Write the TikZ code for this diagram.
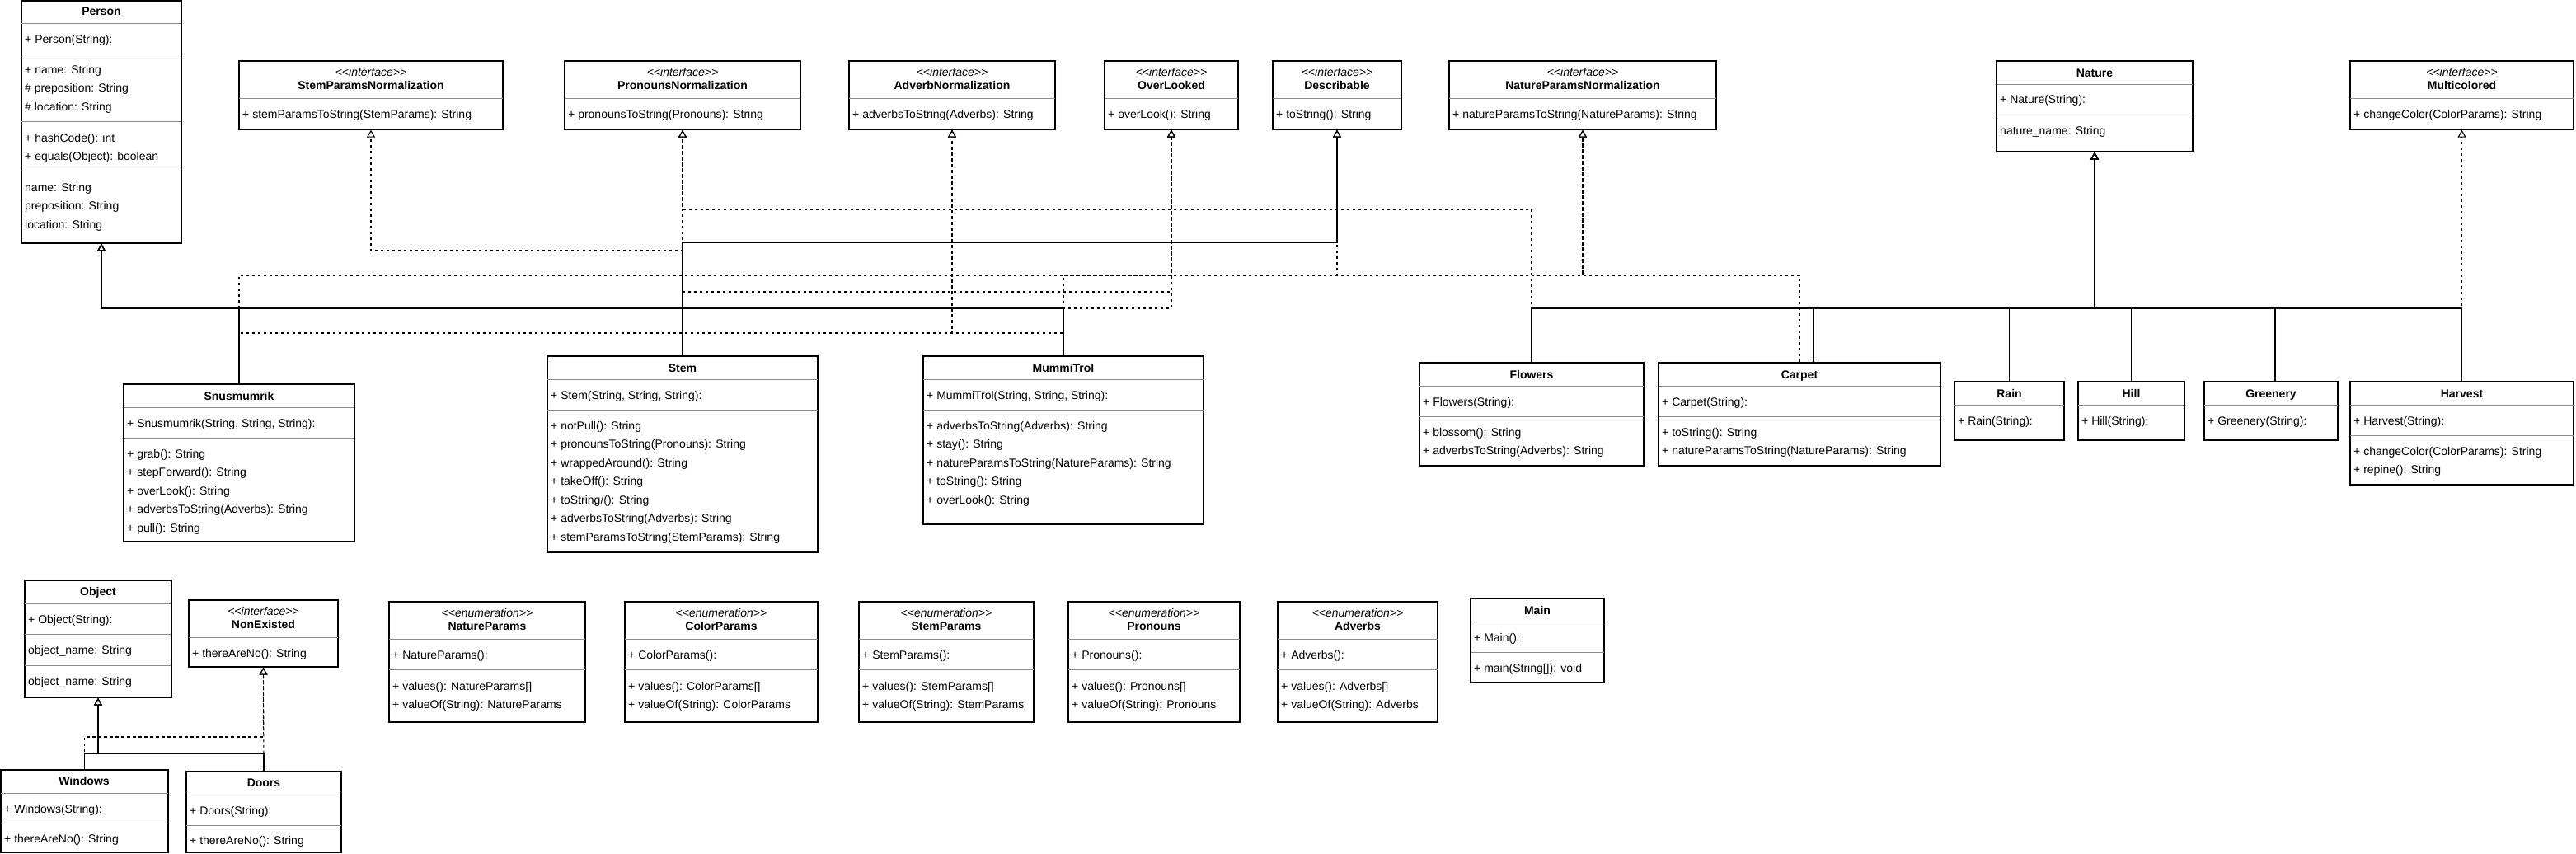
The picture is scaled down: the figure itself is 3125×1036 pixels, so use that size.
\documentclass[tikz,border=0pt]{standalone}
\usepackage{fontspec}
\setmainfont{Liberation Sans}
\usetikzlibrary{arrows.meta,fit}
\tikzset{
  ubox/.style={draw=black, line width=1.2pt, inner sep=0pt, fill=white},
  div/.style={draw=black!45, line width=1pt},
  utext/.style={anchor=base west, inner sep=0pt, font=\fontsize{14}{16}\selectfont},
  utitle/.style={anchor=base, inner sep=0pt, font=\fontsize{14}{16}\selectfont\bfseries},
  ustereo/.style={anchor=base, inner sep=0pt, font=\fontsize{14}{16}\selectfont\itshape},
  gen/.style={draw=black, line width=1.2pt, -{Triangle[open, width=10pt, length=9pt]}},
  real/.style={draw=black, line width=1.1pt, dash pattern=on 3.5pt off 3.5pt, -{Triangle[open, width=10pt, length=9pt]}},
}
\newcommand{\ubx}[5]{\node[ubox, fit={(#2,#3) (#4,#5)}] (#1) {};}
\newcommand{\urw}[3]{\node[utext] at ({#1+4},{#2+5}) {#3};}
\newcommand{\uttl}[3]{\node[utitle] at ({#1},{#2+5}) {#3};}
\newcommand{\udv}[3]{\draw[div] (#1,#3) -- (#2,#3);}
\newcommand{\stereo}[3]{\node[ustereo] at ({#1},{#2+5}) {<\kern0pt<#3>\kern0pt>};}
% interface box, top 74
\newcommand{\iface}[5]{%
  \ubx{#1}{#2}{74}{#3}{157}
  \stereo{(#2+#3)/2}{87}{interface}
  \uttl{(#2+#3)/2}{103}{#4}
  \udv{#2}{#3}{119}
  \urw{#2}{138}{#5}}
% enumeration box, top 730
\newcommand{\enm}[7]{%
  \ubx{#1}{#2}{730}{#3}{876}
  \stereo{(#2+#3)/2}{743}{enumeration}
  \uttl{(#2+#3)/2}{759}{#4}
  \udv{#2}{#3}{775}
  \urw{#2}{794}{#5}
  \udv{#2}{#3}{812}
  \urw{#2}{832}{#6}
  \urw{#2}{854.5}{#7}}
\begin{document}
\begin{tikzpicture}[x=1pt,y=-1pt]
\useasboundingbox (0,0) rectangle (3125,1036);
\fill[white] (0,0) rectangle (3125,1036);

% ---------- Person ----------
\ubx{person}{26}{1}{220}{295}
\uttl{123}{14}{Person}
\udv{26}{220}{28}
\urw{26}{47}{+ Person(String):}
\udv{26}{220}{65}
\urw{26}{84}{+ name: String}
\urw{26}{106.5}{\# preposition: String}
\urw{26}{129}{\# location: String}
\udv{26}{220}{147}
\urw{26}{167}{+ hashCode(): int}
\urw{26}{189.5}{+ equals(Object): boolean}
\udv{26}{220}{207}
\urw{26}{227}{name: String}
\urw{26}{249.5}{preposition: String}
\urw{26}{272}{location: String}

% ---------- Interfaces ----------
\iface{spn}{290}{610}{StemParamsNormalization}{+ stemParamsToString(StemParams): String}
\iface{prn}{685}{971}{PronounsNormalization}{+ pronounsToString(Pronouns): String}
\iface{adv}{1030}{1280}{AdverbNormalization}{+ adverbsToString(Adverbs): String}
\iface{ovl}{1340}{1502}{OverLooked}{+ overLook(): String}
\iface{desc}{1544}{1700}{Describable}{+ toString(): String}
\iface{npn}{1758}{2082}{NatureParamsNormalization}{+ natureParamsToString(NatureParams): String}
\iface{mc}{2851}{3122}{Multicolored}{+ changeColor(ColorParams): String}

% ---------- Nature ----------
\ubx{nature}{2422}{74}{2660}{184}
\uttl{2541}{88}{Nature}
\udv{2422}{2660}{102}
\urw{2422}{120.5}{+ Nature(String):}
\udv{2422}{2660}{139}
\urw{2422}{158}{nature\_name: String}

% ---------- Snusmumrik ----------
\ubx{snus}{150}{466}{430}{657}
\uttl{290}{480}{Snusmumrik}
\udv{150}{430}{494}
\urw{150}{513}{+ Snusmumrik(String, String, String):}
\udv{150}{430}{531}
\urw{150}{550}{+ grab(): String}
\urw{150}{572.5}{+ stepForward(): String}
\urw{150}{595}{+ overLook(): String}
\urw{150}{617.5}{+ adverbsToString(Adverbs): String}
\urw{150}{640}{+ pull(): String}

% ---------- Stem ----------
\ubx{stem}{664}{432}{992}{670}
\uttl{828}{446}{Stem}
\udv{664}{992}{460}
\urw{664}{479}{+ Stem(String, String, String):}
\udv{664}{992}{497}
\urw{664}{516}{+ notPull(): String}
\urw{664}{538.5}{+ pronounsToString(Pronouns): String}
\urw{664}{561}{+ wrappedAround(): String}
\urw{664}{583.5}{+ takeOff(): String}
\urw{664}{606}{+ toString/(): String}
\urw{664}{628.5}{+ adverbsToString(Adverbs): String}
\urw{664}{651}{+ stemParamsToString(StemParams): String}

% ---------- MummiTrol ----------
\ubx{mummi}{1120}{432}{1460}{636}
\uttl{1290}{446}{MummiTrol}
\udv{1120}{1460}{460}
\urw{1120}{479}{+ MummiTrol(String, String, String):}
\udv{1120}{1460}{497}
\urw{1120}{516}{+ adverbsToString(Adverbs): String}
\urw{1120}{538.5}{+ stay(): String}
\urw{1120}{561}{+ natureParamsToString(NatureParams): String}
\urw{1120}{583.5}{+ toString(): String}
\urw{1120}{606}{+ overLook(): String}

% ---------- Flowers ----------
\ubx{flw}{1722}{440}{1994}{565}
\uttl{1858}{454}{Flowers}
\udv{1722}{1994}{468}
\urw{1722}{487}{+ Flowers(String):}
\udv{1722}{1994}{505}
\urw{1722}{524}{+ blossom(): String}
\urw{1722}{546.5}{+ adverbsToString(Adverbs): String}

% ---------- Carpet ----------
\ubx{crp}{2012}{440}{2354}{565}
\uttl{2183}{454}{Carpet}
\udv{2012}{2354}{468}
\urw{2012}{487}{+ Carpet(String):}
\udv{2012}{2354}{505}
\urw{2012}{524}{+ toString(): String}
\urw{2012}{546.5}{+ natureParamsToString(NatureParams): String}

% ---------- Rain, Hill, Greenery ----------
\ubx{rain}{2371}{463}{2504}{534}
\uttl{2437.5}{477}{Rain}
\udv{2371}{2504}{491}
\urw{2371}{510}{+ Rain(String):}

\ubx{hill}{2521}{463}{2650}{534}
\uttl{2585.5}{477}{Hill}
\udv{2521}{2650}{491}
\urw{2521}{510}{+ Hill(String):}

\ubx{grn}{2674}{463}{2836}{534}
\uttl{2755}{477}{Greenery}
\udv{2674}{2836}{491}
\urw{2674}{510}{+ Greenery(String):}

% ---------- Harvest ----------
\ubx{hrv}{2851}{463}{3122}{588}
\uttl{2986.5}{477}{Harvest}
\udv{2851}{3122}{491}
\urw{2851}{510}{+ Harvest(String):}
\udv{2851}{3122}{528}
\urw{2851}{547}{+ changeColor(ColorParams): String}
\urw{2851}{569.5}{+ repine(): String}

% ---------- Object group ----------
\ubx{obj}{30}{704}{208}{846}
\uttl{119}{717}{Object}
\udv{30}{208}{732}
\urw{30}{751}{+ Object(String):}
\udv{30}{208}{769}
\urw{30}{788}{object\_name: String}
\udv{30}{208}{807}
\urw{30}{826}{object\_name: String}

\ubx{nonex}{229}{728}{410}{809}
\stereo{319.5}{741}{interface}
\uttl{319.5}{757}{NonExisted}
\udv{229}{410}{773}
\urw{229}{792}{+ thereAreNo(): String}

\ubx{win}{1}{934}{204}{1034}
\uttl{102}{947}{Windows}
\udv{1}{204}{962}
\urw{1}{981}{+ Windows(String):}
\udv{1}{204}{999}
\urw{1}{1017}{+ thereAreNo(): String}

\ubx{doors}{226}{936}{414}{1034}
\uttl{320}{949}{Doors}
\udv{226}{414}{964}
\urw{226}{983}{+ Doors(String):}
\udv{226}{414}{1001}
\urw{226}{1019}{+ thereAreNo(): String}

% ---------- Enumerations ----------
\enm{enp}{472}{710}{NatureParams}{+ NatureParams():}{+ values(): NatureParams[]}{+ valueOf(String): NatureParams}
\enm{ecp}{758}{992}{ColorParams}{+ ColorParams():}{+ values(): ColorParams[]}{+ valueOf(String): ColorParams}
\enm{esp}{1042}{1254}{StemParams}{+ StemParams():}{+ values(): StemParams[]}{+ valueOf(String): StemParams}
\enm{epr}{1296}{1504}{Pronouns}{+ Pronouns():}{+ values(): Pronouns[]}{+ valueOf(String): Pronouns}
\enm{ead}{1550}{1744}{Adverbs}{+ Adverbs():}{+ values(): Adverbs[]}{+ valueOf(String): Adverbs}

% ---------- Main ----------
\ubx{main}{1784}{726}{1946}{828}
\uttl{1865}{740}{Main}
\udv{1784}{1946}{754}
\urw{1784}{773}{+ Main():}
\udv{1784}{1946}{791}
\urw{1784}{810}{+ main(String[]): void}

% ---------- routing levels ----------
\coordinate (hA) at (0,254);
\coordinate (hB) at (0,294);
\coordinate (hC) at (0,304);
\coordinate (hD) at (0,334);
\coordinate (hE) at (0,354);
\coordinate (hF) at (0,374);
\coordinate (hG) at (0,404);
\coordinate (hO) at (0,894);
\coordinate (hP) at (0,914);
\coordinate (crpS) at ([xshift=17pt]crp.north);
\coordinate (grnS) at ([xshift=5pt]grn.north);

% ---------- connectors: Person side ----------
\draw[gen] (snus.north) -- (snus.north |- hF) -| (person.south);
\draw[gen] (stem.north) -- (stem.north |- hF) -| (person.south);
\draw[gen] (mummi.north) -- (mummi.north |- hF) -| (person.south);
\draw[real] (stem.north) -- (stem.north |- hC) -| (spn.south);
\draw[real] (stem.north) -- (prn.south);
\draw[gen] (stem.north) -- (stem.north |- hB) -| (desc.south);
\draw[real] (stem.north) -- (stem.north |- hE) -| (ovl.south);
\draw[real] (flw.north) -- (flw.north |- hA) -| (prn.south);
\draw[real] (snus.north) -- (snus.north |- hD) -| (ovl.south);
\draw[real] (snus.north) -- (snus.north |- hG) -| (adv.south);
\draw[real] (mummi.north) -- (mummi.north |- hG) -| (adv.south);
\draw[real] (mummi.north) -- (mummi.north |- hF) -| (ovl.south);
\draw[real] (mummi.north) -- (mummi.north |- hD) -| (npn.south);
\draw[real] (crp.north) -- (crp.north |- hD) -| (desc.south);
\draw[real] (crp.north) -- (crp.north |- hD) -| (npn.south);

% ---------- connectors: Nature side ----------
\draw[gen] (flw.north) -- (flw.north |- hF) -| (nature.south);
\draw[gen] (crpS) -- (crpS |- hF) -| (nature.south);
\draw[gen] (rain.north) -- (rain.north |- hF) -| (nature.south);
\draw[gen] (hill.north) -- (hill.north |- hF) -| (nature.south);
\draw[gen] (grnS) -- (grnS |- hF) -| (nature.south);
\draw[gen] (hrv.north) -- (hrv.north |- hF) -| (nature.south);
\draw[real] (hrv.north) -- (mc.south);

% ---------- connectors: Object side ----------
\draw[gen] (win.north) -- (win.north |- hP) -| (obj.south);
\draw[gen] (doors.north) -- (doors.north |- hP) -| (obj.south);
\draw[real] (doors.north) -- (nonex.south);
\draw[real] (win.north) -- (win.north |- hO) -| (nonex.south);
\end{tikzpicture}
\end{document}
